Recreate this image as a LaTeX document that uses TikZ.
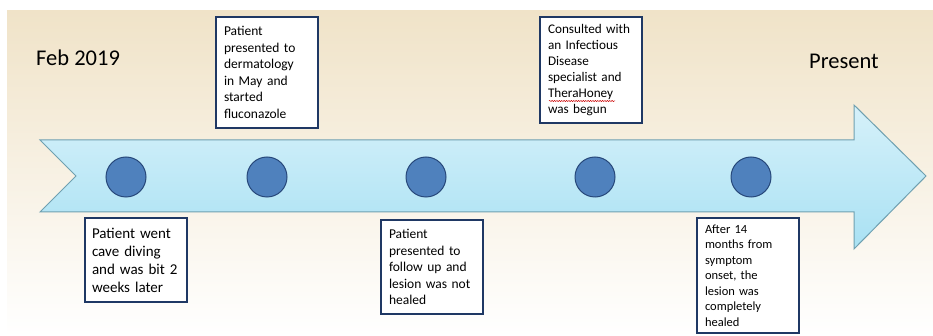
\documentclass[tikz,border=0pt]{standalone}
\usepackage{fontspec}
\setmainfont{Carlito}
\usetikzlibrary{decorations.pathmorphing}
\definecolor{bgtop}{HTML}{F0E3C8}
\definecolor{bgmid}{HTML}{F6EEDF}
\definecolor{arrtop}{HTML}{D6F1FA}
\definecolor{arrbot}{HTML}{A9E1F3}
\definecolor{arredge}{HTML}{6FA0B0}
\definecolor{dotfill}{HTML}{4F81BD}
\definecolor{dotedge}{HTML}{27487A}
\definecolor{boxedge}{HTML}{1F3864}
\begin{document}
\begin{tikzpicture}[x=1pt,y=-1pt,
  evbox/.style={draw=boxedge,line width=1.3pt,fill=white,align=left,
    inner xsep=8pt,inner ysep=0pt,text width=86pt,minimum width=102pt},
  dot/.style={circle,draw=dotedge,line width=1pt,fill=dotfill,minimum size=40pt,inner sep=0pt},
  bigtext/.style={anchor=base west,inner sep=0pt,font=\fontsize{22.5}{27}\selectfont}]
\useasboundingbox (0,0) rectangle (933,336);
\shade[top color=bgtop,middle color=bgmid,bottom color=white] (7,11) rectangle (933,336);
% timeline arrow
\shade[top color=arrtop,bottom color=arrbot,draw=arredge,line width=1pt,line join=miter]
  (40,140) -- (854,140) -- (854,105) -- (926,176) -- (854,249) -- (854,212) -- (40,212) -- (76,176) -- cycle;
% labels
\node[bigtext] (start) at (36,66) {Feb 2019};
\node[bigtext] (end) at (809,69) {Present};
% dots
\node[dot] (d1) at (126,177) {};
\node[dot] (d2) at (267,177) {};
\node[dot] (d3) at (426,177) {};
\node[dot] (d4) at (595,177) {};
\node[dot] (d5) at (751,177) {};
% event boxes
\node[evbox,minimum height=84pt,text width=88pt,inner xsep=7pt,font=\fontsize{15}{18}\selectfont] (e1) at (136,260)
  {Patient went\\cave diving\\and was bit 2\\weeks later};
\node[evbox,minimum height=111pt,font=\fontsize{13.5}{16.5}\selectfont] (e2) at (267,72.5)
  {Patient\\presented to\\dermatology\\in May and\\started\\fluconazole};
\node[evbox,minimum height=94pt,font=\fontsize{13.5}{16.6}\selectfont] (e3) at (432,267)
  {Patient\\presented to\\follow up and\\lesion was not\\healed};
\node[evbox,minimum height=106pt,font=\fontsize{13.2}{16}\selectfont] (e4) at (591,70)
  {Consulted with\\an Infectious\\Disease\\specialist and\\TheraHoney\\was begun};
\node[evbox,minimum height=115pt,font=\fontsize{12.5}{15.5}\selectfont] (e5) at (748,275.5)
  {After 14\\months from\\symptom\\onset, the\\lesion was\\completely\\healed};
% spell-check underline
\draw[red!80!black,line width=0.5pt,decorate,decoration={snake,amplitude=0.6pt,segment length=2.4pt}]
  (549,101) -- (615,101);
\end{tikzpicture}
\end{document}
